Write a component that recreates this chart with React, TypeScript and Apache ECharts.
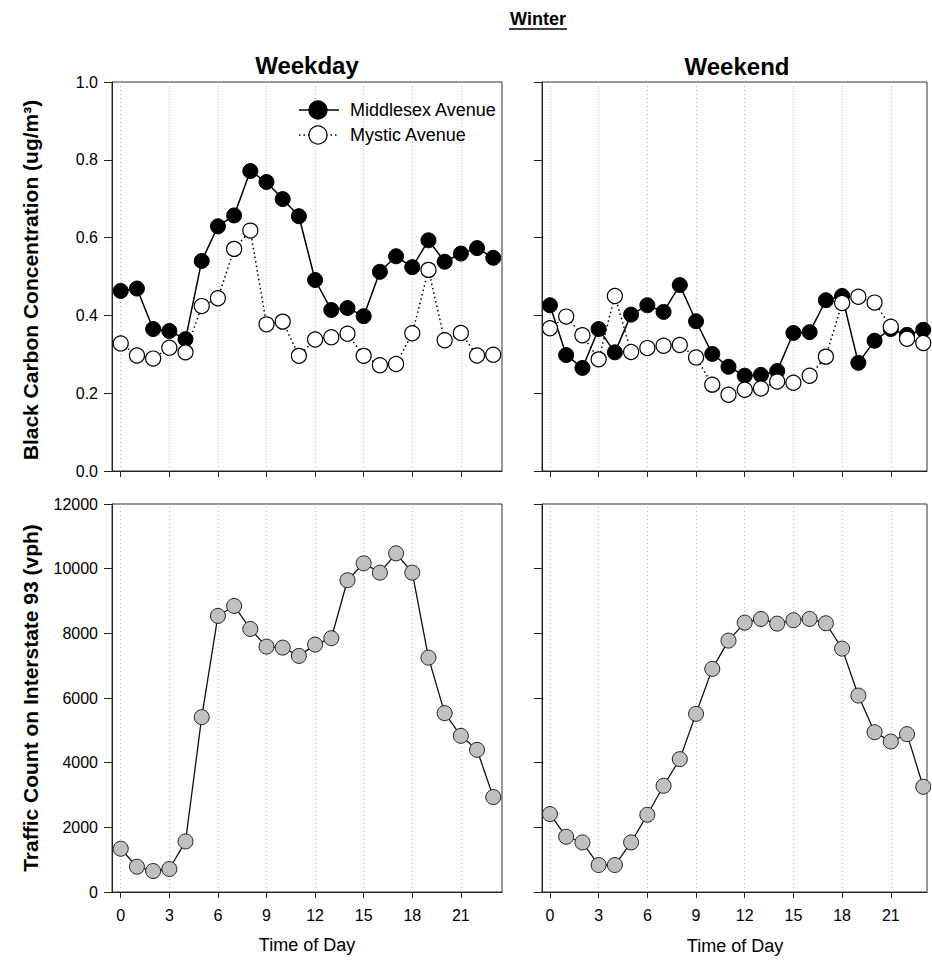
import React, { useEffect, useRef } from 'react';
import * as echarts from 'echarts';

const hours = [0, 1, 2, 3, 4, 5, 6, 7, 8, 9, 10, 11, 12, 13, 14, 15, 16, 17, 18, 19, 20, 21, 22, 23];
const tickHours = [0, 3, 6, 9, 12, 15, 18, 21];
const legendNames = ['Middlesex Avenue', 'Mystic Avenue'];

const weekdayMiddlesex = [0.463, 0.469, 0.365, 0.36, 0.339, 0.54, 0.629, 0.657, 0.771, 0.743, 0.699, 0.655, 0.491, 0.414, 0.419, 0.398, 0.512, 0.552, 0.524, 0.593, 0.538, 0.559, 0.573, 0.548];
const weekdayMystic = [0.328, 0.297, 0.289, 0.317, 0.305, 0.424, 0.444, 0.571, 0.618, 0.377, 0.384, 0.296, 0.338, 0.344, 0.353, 0.296, 0.272, 0.275, 0.354, 0.517, 0.336, 0.355, 0.297, 0.299];
const weekendMiddlesex = [0.426, 0.298, 0.265, 0.365, 0.305, 0.402, 0.426, 0.409, 0.478, 0.385, 0.301, 0.268, 0.245, 0.247, 0.257, 0.355, 0.357, 0.439, 0.45, 0.278, 0.335, 0.365, 0.35, 0.363];
const weekendMystic = [0.367, 0.397, 0.349, 0.287, 0.45, 0.306, 0.316, 0.322, 0.324, 0.292, 0.222, 0.196, 0.209, 0.212, 0.23, 0.227, 0.245, 0.294, 0.432, 0.448, 0.433, 0.371, 0.34, 0.329];
const weekdayTraffic = [1338, 782, 649, 711, 1564, 5408, 8538, 8847, 8136, 7589, 7558, 7302, 7651, 7849, 9641, 10166, 9876, 10475, 9876, 7249, 5531, 4830, 4397, 2936];
const weekendTraffic = [2410, 1709, 1533, 834, 834, 1533, 2389, 3285, 4110, 5510, 6900, 7775, 8331, 8445, 8300, 8405, 8445, 8312, 7527, 6075, 4944, 4654, 4882, 3254];

const FONT = 'Liberation Sans, Arial, Helvetica, sans-serif';

export default function App() {
  const ref = useRef<HTMLDivElement>(null);

  useEffect(() => {
    document.body.style.margin = '0';
    const chart = echarts.init(ref.current!, null, { renderer: 'svg' });

    const pairs = (arr: number[]) => hours.map((h, i) => [h, arr[i]]);

    const grids = [
      { left: 112, top: 82, width: 390, height: 389 },
      { left: 542, top: 82, width: 385, height: 389 },
      { left: 112, top: 504, width: 390, height: 388 },
      { left: 542, top: 504, width: 385, height: 388 },
    ].map((g) => ({ ...g, show: true, borderColor: '#333', borderWidth: 1, backgroundColor: 'transparent' }));

    const xAxis = (gridIndex: number, min: number, max: number, labels: boolean) => ({
      type: 'value',
      gridIndex,
      min,
      max,
      axisLine: { show: true, onZero: false, lineStyle: { color: '#222', width: 1 } },
      axisTick: { show: true, inside: false, length: 6, customValues: tickHours, lineStyle: { color: '#222' } },
      axisLabel: { show: labels, customValues: tickHours, margin: 15, fontSize: 16, color: '#000', fontFamily: FONT },
      splitLine: { show: false },
    });

    const yAxis = (gridIndex: number, max: number, interval: number, labels: boolean, fmt?: (v: number) => string) => ({
      type: 'value',
      gridIndex,
      min: 0,
      max,
      interval,
      axisLine: { show: true, onZero: false, lineStyle: { color: '#222', width: 1 } },
      axisTick: { show: true, inside: false, length: 8, lineStyle: { color: '#222' } },
      axisLabel: { show: labels, margin: 14, fontSize: 16, color: '#000', fontFamily: FONT, formatter: fmt },
      splitLine: { show: false },
    });

    const guide = (idx: number) => ({
      type: 'line',
      xAxisIndex: idx,
      yAxisIndex: idx,
      data: [],
      z: 1,
      silent: true,
      markLine: {
        z: 1,
        silent: true,
        symbol: ['none', 'none'],
        label: { show: false },
        lineStyle: { type: [1, 3], color: '#b0b0b0', width: 1 },
        emphasis: { disabled: true },
        data: tickHours.map((h) => ({ xAxis: h })),
      },
    });

    const middlesex = (idx: number, arr: number[]) => ({
      type: 'line',
      name: legendNames[0],
      xAxisIndex: idx,
      yAxisIndex: idx,
      data: pairs(arr),
      z: 3,
      symbol: 'circle',
      symbolSize: 15,
      lineStyle: { color: '#000', width: 1.5, type: 'solid' },
      itemStyle: { color: '#000', borderColor: '#000', borderWidth: 1 },
      emphasis: { disabled: true },
    });

    const mystic = (idx: number, arr: number[]) => ({
      type: 'line',
      name: legendNames[1],
      xAxisIndex: idx,
      yAxisIndex: idx,
      data: pairs(arr),
      z: 4,
      symbol: 'circle',
      symbolSize: 15,
      lineStyle: { color: '#000', width: 1.5, type: [1.5, 3] },
      itemStyle: { color: '#fff', borderColor: '#000', borderWidth: 1.2 },
      emphasis: { disabled: true },
    });

    const traffic = (idx: number, arr: number[]) => ({
      type: 'line',
      name: 'Traffic',
      xAxisIndex: idx,
      yAxisIndex: idx,
      data: pairs(arr),
      z: 3,
      symbol: 'circle',
      symbolSize: 15,
      lineStyle: { color: '#111', width: 1.3 },
      itemStyle: { color: '#c0c0c0', borderColor: '#222', borderWidth: 1 },
      emphasis: { disabled: true },
    });

    // hand-drawn legend (key) in the weekday panel
    const legendKey = (row: number, filled: boolean) => {
      const cy = 110 + row * 25;
      return [
        { type: 'line', shape: { x1: 299, y1: cy, x2: 339, y2: cy }, style: { stroke: '#000', lineWidth: 1.5, lineDash: filled ? null : [1.5, 3] }, z: 10 },
        { type: 'circle', shape: { cx: 318, cy, r: 9 }, style: { fill: filled ? '#000' : '#fff', stroke: '#000', lineWidth: 1.2 }, z: 11 },
        { type: 'text', x: 350, y: cy, style: { text: legendNames[row], fill: '#000', font: `18px ${FONT}`, textAlign: 'left', textVerticalAlign: 'middle' }, z: 11 },
      ];
    };

    const option = {
      animation: false,
      backgroundColor: '#fff',
      textStyle: { fontFamily: FONT },
      grid: grids,
      xAxis: [
        xAxis(0, -0.54, 23.54, false),
        xAxis(1, -0.49, 23.23, false),
        xAxis(2, -0.54, 23.54, true),
        xAxis(3, -0.49, 23.23, true),
      ],
      yAxis: [
        yAxis(0, 1, 0.2, true, (v: number) => v.toFixed(1)),
        yAxis(1, 1, 0.2, false),
        yAxis(2, 12000, 2000, true, (v: number) => String(v)),
        yAxis(3, 12000, 2000, false),
      ],
      graphic: [
        { type: 'text', x: 538, y: 19, style: { text: 'Winter', fill: '#000', font: `bold 18px ${FONT}`, textAlign: 'center', textVerticalAlign: 'middle' } },
        { type: 'line', shape: { x1: 509, y1: 29, x2: 567, y2: 29 }, style: { stroke: '#000', lineWidth: 1.5 } },
        { type: 'text', x: 307, y: 65, style: { text: 'Weekday', fill: '#000', font: `bold 24px ${FONT}`, textAlign: 'center', textVerticalAlign: 'middle' } },
        { type: 'text', x: 737, y: 66.5, style: { text: 'Weekend', fill: '#000', font: `bold 24px ${FONT}`, textAlign: 'center', textVerticalAlign: 'middle' } },
        { type: 'text', x: 30, y: 280, rotation: Math.PI / 2, style: { text: 'Black Carbon Concentration (ug/m³)', fill: '#000', font: `bold 21px ${FONT}`, textAlign: 'center', textVerticalAlign: 'middle' } },
        { type: 'text', x: 30, y: 698, rotation: Math.PI / 2, style: { text: 'Traffic Count on Interstate 93 (vph)', fill: '#000', font: `bold 21px ${FONT}`, textAlign: 'center', textVerticalAlign: 'middle' } },
        { type: 'text', x: 307, y: 945, style: { text: 'Time of Day', fill: '#000', font: `18px ${FONT}`, textAlign: 'center', textVerticalAlign: 'middle' } },
        { type: 'text', x: 735, y: 946, style: { text: 'Time of Day', fill: '#000', font: `18px ${FONT}`, textAlign: 'center', textVerticalAlign: 'middle' } },
        ...legendKey(0, true),
        ...legendKey(1, false),
      ],
      series: [
        guide(0), guide(1), guide(2), guide(3),
        middlesex(0, weekdayMiddlesex),
        mystic(0, weekdayMystic),
        middlesex(1, weekendMiddlesex),
        mystic(1, weekendMystic),
        traffic(2, weekdayTraffic),
        traffic(3, weekendTraffic),
      ],
    };

    chart.setOption(option as any);
    return () => chart.dispose();
  }, []);

  return <div ref={ref} style={{ width: 932, height: 963 }} />;
}
